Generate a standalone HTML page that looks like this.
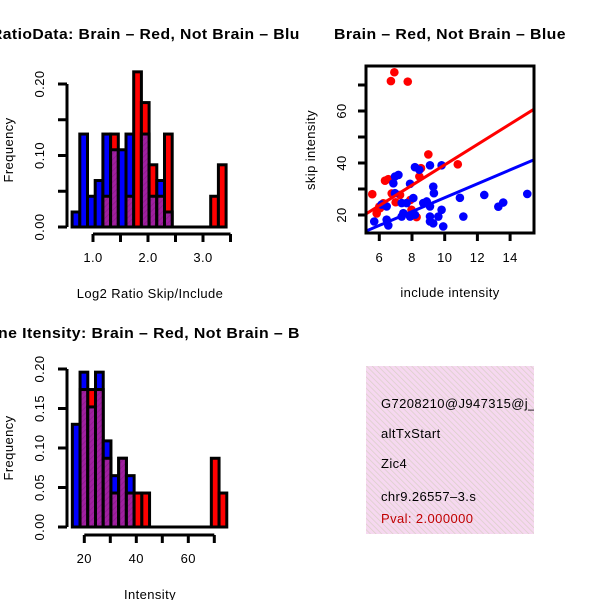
<!DOCTYPE html>
<html><head><meta charset="utf-8">
<style>
html,body{margin:0;padding:0;background:#fff;}
svg{display:block;font-family:"Liberation Sans",sans-serif;}
svg text{letter-spacing:0.4px;}
</style></head>
<body>
<svg id="chart" width="600" height="600" viewBox="0 0 600 600" xmlns="http://www.w3.org/2000/svg">
<defs>
  <pattern id="hatch" width="4" height="4" patternUnits="userSpaceOnUse" patternTransform="rotate(45)">
    <rect width="4" height="4" fill="#a020a0"/>
    <line x1="0" y1="0" x2="0" y2="4" stroke="#8a1a8a" stroke-width="1.5"/>
  </pattern>
  <pattern id="pinkhatch" width="4" height="4" patternUnits="userSpaceOnUse" patternTransform="rotate(-45)">
    <rect width="4" height="4" fill="#f6d8f0"/>
    <line x1="0" y1="0" x2="0" y2="4" stroke="#d9cfc6" stroke-width="1.4"/>
  </pattern>
  <clipPath id="clipL"><rect x="0" y="0" width="300" height="600"/></clipPath>
  <clipPath id="clipBox"><rect x="366" y="366" width="168" height="168"/></clipPath>
  <clipPath id="clipPlot"><rect x="366" y="66" width="168" height="167"/></clipPath>
</defs>
<g id="h1"></g>
<g id="sc"></g>
<g id="h2"></g>
<g>
  <rect x="366" y="366" width="168" height="168" fill="url(#pinkhatch)"/>
  <g clip-path="url(#clipBox)" font-size="13">
    <text x="381" y="408">G7208210@J947315@j_</text>
    <text x="381" y="438">altTxStart</text>
    <text x="381" y="468">Zic4</text>
    <text x="381" y="501">chr9.26557–3.s</text>
    <text x="381" y="523" fill="#c00000">Pval: 2.000000</text>
  </g>
</g>
</svg>
<script>
// ---- Histogram 1 data (Log2 ratio) ----
const h1Start = 0.62;
const h1BinWidth = 0.14;
const h1Red  = [0,0,0,0,0.043,0.13,0,0.043,0.217,0.174,0.087,0.043,0.13,0,0,0,0,0,0.043,0.087];
const h1Blue = [0.021,0.13,0.043,0.065,0.13,0.108,0.108,0.13,0,0.13,0.043,0.065,0.021,0,0,0,0,0,0,0];
const h1XTicks = [1.0,1.5,2.0,2.5,3.0,3.5];
const h1XLabels = ["1.0","","2.0","","3.0",""];
const h1YTicks = [0,0.05,0.10,0.15,0.20];
const h1YLabels = ["0.00","","0.10","","0.20"];

// ---- Histogram 2 data (Intensity) ----
const h2Start = 15.4;
const h2BinWidth = 2.97;
const h2Red  = [0,0.174,0.174,0.174,0.087,0.043,0.087,0.043,0.043,0.043,0,0,0,0,0,0,0,0,0.087,0.043];
const h2Blue = [0.13,0.196,0.152,0.196,0.109,0.065,0.087,0.065,0,0,0,0,0,0,0,0,0,0,0,0];
const h2XTicks = [20,30,40,50,60,70];
const h2XLabels = ["20","","40","","60",""];
const h2YTicks = [0,0.05,0.10,0.15,0.20];
const h2YLabels = ["0.00","0.05","0.10","0.15","0.20"];

// ---- Scatter data ----
const redX = [6.92,6.71,7.74,5.57,9.0,10.8,6.35,6.55,6.0,5.84,6.25,7.0,7.97,8.28,8.55,8.45,7.27,7.9,6.04,6.76];
const redY = [74.9,71.5,71.3,28.0,43.3,39.5,33.2,33.8,23.2,20.6,24.5,24.9,22.0,19.2,38.0,34.8,27.7,25.8,22.6,28.3];
const blueX = [5.69,6.55,6.45,6.96,7.17,6.86,7.88,8.18,8.45,9.1,9.81,9.3,9.34,10.93,11.14,12.42,13.28,13.58,15.05,9.91,9.81,9.1,8.9,8.69,8.08,7.67,7.47,7.37,7.88,8.18,9.1,9.1,9.3,9.61,6.96,7.37,6.45,6.14];
const blueY = [17.5,16.0,18.2,34.8,35.4,32.2,32.0,38.4,37.4,39.1,39.1,30.9,28.4,26.6,19.4,27.7,23.2,24.8,28.1,15.6,22.0,23.3,25.2,24.6,26.5,24.6,20.7,19.4,19.4,20.1,19.4,17.5,16.8,19.4,28.4,24.6,23.3,24.0];
const fitIntercept = [0.09, -0.03];   // red, blue
const fitSlope = [3.92, 2.67];
const scXTicks = [6,8,10,12,14];
const scYTicks = [20,30,40,50,60,70];
const scYLabels = ["20","","40","","60",""];

const NS = "http://www.w3.org/2000/svg";
function mk(parent, tag, attrs){
  const e = document.createElementNS(NS, tag);
  for (const k in attrs) e.setAttribute(k, attrs[k]);
  parent.appendChild(e);
  return e;
}

function drawHist(g, cfg){
  const sx = v => cfg.x0px + (v - cfg.x0) * cfg.xs;
  const sy = v => cfg.y0px - v * cfg.ys;
  const n = cfg.red.length;
  for (let i = 0; i < n; i++){
    const a = cfg.start + i * cfg.bw, b = a + cfg.bw;
    const x1 = sx(a), x2 = sx(b);
    const r = cfg.red[i], bl = cfg.blue[i];
    const hi = Math.max(r, bl), lo = Math.min(r, bl);
    if (hi <= 0) continue;
    const col = r >= bl ? "#ff0000" : "#0000ff";
    const bar = mk(g, "rect", {x:x1, y:sy(hi), width:x2-x1, height:sy(0)-sy(hi), fill:col, stroke:"#000", "stroke-width":3});
    
    
    if (lo > 0){
      const ov = mk(g, "rect", {x:x1, y:sy(lo), width:x2-x1, height:sy(0)-sy(lo), fill:"url(#hatch)", stroke:"#000", "stroke-width":3});
      
      
    }
  }
  const bl0 = mk(g, "line", {x1:sx(cfg.start), x2:sx(cfg.start + n*cfg.bw), y1:sy(0), y2:sy(0), stroke:"#000", "stroke-width":3});
  
  
  const ya = mk(g, "g", {});
  
  
  const yt = cfg.yTicks;
  mk(ya, "line", {x1:cfg.yAxisX, x2:cfg.yAxisX, y1:sy(yt[0]), y2:sy(yt[yt.length-1]), stroke:"#000", "stroke-width":3});
  yt.forEach((v, i) => {
    mk(ya, "line", {x1:cfg.yAxisX-9, x2:cfg.yAxisX, y1:sy(v), y2:sy(v), stroke:"#000", "stroke-width":3});
    if (cfg.yLabels[i]){
      const t = mk(ya, "text", {x:0, y:0, "font-size":13, "text-anchor":"middle", transform:`translate(${cfg.yAxisX-23},${sy(v)}) rotate(-90)`});
      t.textContent = cfg.yLabels[i];
      
      
    }
  });
  const xa = mk(g, "g", {});
  
  
  const xt = cfg.xTicks;
  mk(xa, "line", {x1:sx(xt[0]), x2:sx(xt[xt.length-1]), y1:cfg.xAxisY, y2:cfg.xAxisY, stroke:"#000", "stroke-width":3});
  xt.forEach((v, i) => {
    mk(xa, "line", {x1:sx(v), x2:sx(v), y1:cfg.xAxisY, y2:cfg.xAxisY+8, stroke:"#000", "stroke-width":3});
    if (cfg.xLabels[i]){
      const t = mk(xa, "text", {x:sx(v), y:cfg.xAxisY+28, "font-size":13, "text-anchor":"middle"});
      t.textContent = cfg.xLabels[i];
      
      
    }
  });
  const xl = mk(g, "text", {x:150, y:cfg.xAxisY+64, "font-size":13, "text-anchor":"middle"});
  xl.textContent = cfg.xTitle;
  
  
  const yl = mk(g, "text", {x:0, y:0, "font-size":13, "text-anchor":"middle", transform:`translate(13,${cfg.yTitleY}) rotate(-90)`});
  yl.textContent = "Frequency";
  
  
  const ti = mk(g, "text", {x:150, y:cfg.titleY, "font-size":15, "font-weight":"bold", "text-anchor":"middle", "textLength":cfg.titleLen, "lengthAdjust":"spacingAndGlyphs", "clip-path":"url(#clipL)"});
  ti.textContent = cfg.title;
  
  
}

drawHist(document.getElementById("h1"), {
  start:h1Start, bw:h1BinWidth, red:h1Red, blue:h1Blue,
  x0:1.0, x0px:93, xs:55, y0px:227, ys:715,
  xTicks:h1XTicks, xLabels:h1XLabels, yTicks:h1YTicks, yLabels:h1YLabels,
  yAxisX:67, xAxisY:234, xTitle:"Log2 Ratio Skip/Include", yTitleY:150, titleY:39, titleLen:318,
  title:"RatioData: Brain – Red, Not Brain – Blue"
});
drawHist(document.getElementById("h2"), {
  start:h2Start, bw:h2BinWidth, red:h2Red, blue:h2Blue,
  x0:20, x0px:84.3, xs:2.6, y0px:527, ys:790,
  xTicks:h2XTicks, xLabels:h2XLabels, yTicks:h2YTicks, yLabels:h2YLabels,
  yAxisX:67, xAxisY:535, xTitle:"Intensity", yTitleY:448, titleY:338, titleLen:348,
  title:"Gene Itensity: Brain – Red, Not Brain – Blue"
});

// ---- Scatter ----
(function(){
  const g = document.getElementById("sc");
  const sx = v => 379.3 + (v - 6) * 16.35;
  const sy = v => 215 - (v - 20) * 2.6;
  const pg = mk(g, "g", {"clip-path":"url(#clipPlot)"});
  
  
  redX.forEach((x, i) => {
    const c = mk(pg, "circle", {cx:sx(x), cy:sy(redY[i]), r:4.3, fill:"#ff0000"});
    
    
  });
  blueX.forEach((x, i) => {
    const c = mk(pg, "circle", {cx:sx(x), cy:sy(blueY[i]), r:4.3, fill:"#0000ff"});
    
    
  });
  const cols = ["#ff0000", "#0000ff"];
  const xa = 5.18, xb = 15.45;
  fitIntercept.forEach((b, i) => {
    const l = mk(pg, "line", {x1:sx(xa), y1:sy(b + fitSlope[i]*xa), x2:sx(xb), y2:sy(b + fitSlope[i]*xb), stroke:cols[i], "stroke-width":3});
    
    
  });
  const box = mk(g, "rect", {x:366, y:66, width:168, height:167, fill:"none", stroke:"#000", "stroke-width":3});
  
  
  const xaG = mk(g, "g", {});
  
  
  scXTicks.forEach(v => {
    mk(xaG, "line", {x1:sx(v), x2:sx(v), y1:233, y2:241, stroke:"#000", "stroke-width":3});
    const t = mk(xaG, "text", {x:sx(v), y:262, "font-size":13, "text-anchor":"middle"});
    t.textContent = String(v);
    
    
  });
  const yaG = mk(g, "g", {});
  
  
  scYTicks.forEach((v, i) => {
    mk(yaG, "line", {x1:358, x2:366, y1:sy(v), y2:sy(v), stroke:"#000", "stroke-width":3});
    if (scYLabels[i]){
      const t = mk(yaG, "text", {x:0, y:0, "font-size":13, "text-anchor":"middle", transform:`translate(346,${sy(v)}) rotate(-90)`});
      t.textContent = scYLabels[i];
      
      
    }
  });
  const xl = mk(g, "text", {x:450, y:297, "font-size":13, "text-anchor":"middle"});
  xl.textContent = "include intensity";
  
  
  const yl = mk(g, "text", {x:0, y:0, "font-size":13, "text-anchor":"middle", transform:"translate(315,150) rotate(-90)"});
  yl.textContent = "skip intensity";
  
  
  const ti = mk(g, "text", {x:450, y:39, "font-size":15, "font-weight":"bold", "text-anchor":"middle", "textLength":232, "lengthAdjust":"spacingAndGlyphs"});
  ti.textContent = "Brain – Red, Not Brain – Blue";
  
  
})();
</script>
</body></html>
